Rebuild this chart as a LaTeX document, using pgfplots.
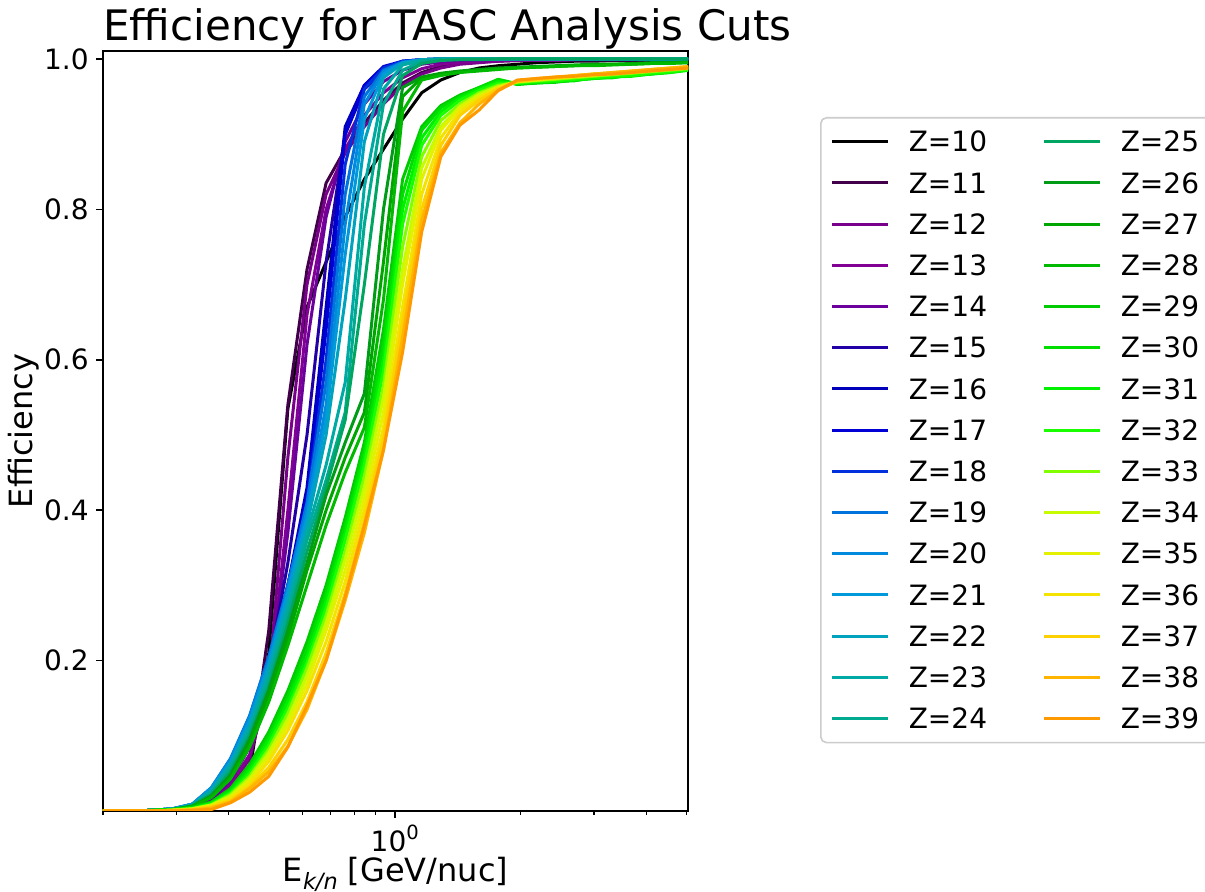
\documentclass[border=0pt]{standalone}
\usepackage{fontspec}
\setmainfont{DejaVu Sans}[ItalicFont={DejaVu Sans Oblique}]
\usepackage{pgfplots}
\usepackage{pgfplotstable}
\pgfplotsset{compat=1.18}

% nipy_spectral colours, one per charge
\definecolor{z10}{rgb}{0,0,0}
\definecolor{z11}{rgb}{0.2575,0,0.2943}
\definecolor{z12}{rgb}{0.4736,0,0.5402}
\definecolor{z13}{rgb}{0.5104,0,0.5770}
\definecolor{z14}{rgb}{0.4230,0,0.6138}
\definecolor{z15}{rgb}{0.1287,0,0.6506}
\definecolor{z16}{rgb}{0,0,0.7287}
\definecolor{z17}{rgb}{0,0,0.8391}
\definecolor{z18}{rgb}{0,0.1931,0.8667}
\definecolor{z19}{rgb}{0,0.4506,0.8667}
\definecolor{z20}{rgb}{0,0.5356,0.8667}
\definecolor{z21}{rgb}{0,0.6046,0.8529}
\definecolor{z22}{rgb}{0,0.6414,0.7425}
\definecolor{z23}{rgb}{0,0.6667,0.6437}
\definecolor{z24}{rgb}{0,0.6667,0.5701}
\definecolor{z25}{rgb}{0,0.6483,0.3862}
\definecolor{z26}{rgb}{0,0.6115,0.0920}
\definecolor{z27}{rgb}{0,0.6506,0}
\definecolor{z28}{rgb}{0,0.7241,0}
\definecolor{z29}{rgb}{0,0.7977,0}
\definecolor{z30}{rgb}{0,0.8713,0}
\definecolor{z31}{rgb}{0,0.9448,0}
\definecolor{z32}{rgb}{0.1011,1,0}
\definecolor{z33}{rgb}{0.5058,1,0}
\definecolor{z34}{rgb}{0.7816,0.9839,0}
\definecolor{z35}{rgb}{0.8920,0.9471,0}
\definecolor{z36}{rgb}{0.9563,0.8874,0}
\definecolor{z37}{rgb}{0.9931,0.8138,0}
\definecolor{z38}{rgb}{1,0.7103,0}
\definecolor{z39}{rgb}{1,0.6,0}

% efficiency per energy bin, one row per charge
\pgfplotstableread{
name n0 n1 n2 n3 n4 n5 n6 n7 n8 n9 n10 n11 n12 n13 n14 n15 n16 n17 n18 n19 n20 n21 n22 n23 n24 n25 n26 n27 n28 n29 n30 n31
x 0.1931 0.2147 0.2384 0.2651 0.2945 0.3272 0.3637 0.4042 0.4491 0.4990 0.5545 0.6162 0.6847 0.7608 0.8455 0.9395 1.0440 1.1601 1.2891 1.4325 1.5918 1.7689 1.9656 2.1842 2.4271 2.6970 2.9969 3.3302 3.7005 4.1121 4.5694 5.0775
z10 0 0 0 0 0.001 0.002 0.005 0.015 0.053 0.21 0.535 0.67 0.73 0.79 0.84 0.88 0.92 0.955 0.972 0.982 0.988 0.991 0.993 0.995 0.996 0.997 0.997 0.998 0.998 0.998 0.999 0.999
z11 0 0 0 0 0.001 0.003 0.007 0.018 0.06 0.24 0.54 0.72 0.835 0.88 0.915 0.945 0.968 0.982 0.99 0.994 0.996 0.997 0.998 0.998 0.998 0.999 0.999 0.999 0.999 0.999 0.999 0.999
z12 0 0 0 0 0.002 0.004 0.01 0.03 0.07 0.17 0.47 0.70 0.82 0.875 0.91 0.94 0.965 0.98 0.988 0.993 0.995 0.997 0.998 0.998 0.998 0.999 0.999 0.999 0.999 0.999 0.999 0.999
z13 0 0 0 0.001 0.002 0.005 0.012 0.035 0.075 0.16 0.40 0.66 0.80 0.88 0.925 0.955 0.975 0.987 0.993 0.996 0.997 0.998 0.998 0.999 0.999 0.999 0.999 0.999 0.999 0.999 0.999 0.999
z14 0 0 0 0.001 0.003 0.006 0.014 0.04 0.085 0.17 0.37 0.62 0.79 0.89 0.94 0.97 0.985 0.993 0.996 0.998 0.998 0.999 0.999 0.999 0.999 0.999 0.999 0.999 0.999 0.999 0.999 0.999
z15 0 0 0 0.001 0.002 0.006 0.02 0.05 0.10 0.19 0.33 0.50 0.73 0.90 0.96 0.982 0.993 0.997 0.999 0.999 1 1 1 1 1 1 1 1 1 1 1 1
z16 0 0 0 0.001 0.002 0.007 0.024 0.058 0.11 0.20 0.30 0.43 0.67 0.91 0.965 0.988 0.997 0.999 1 1 1 1 1 1 1 1 1 1 1 1 1 1
z17 0 0 0 0.001 0.003 0.008 0.026 0.062 0.115 0.20 0.30 0.42 0.64 0.90 0.965 0.99 0.997 0.999 1 1 1 1 1 1 1 1 1 1 1 1 1 1
z18 0 0 0 0.001 0.003 0.009 0.03 0.068 0.125 0.205 0.30 0.41 0.60 0.86 0.96 0.988 0.997 0.999 1 1 1 1 1 1 1 1 1 1 1 1 1 1
z19 0 0 0 0.001 0.003 0.009 0.031 0.07 0.127 0.205 0.30 0.41 0.57 0.82 0.95 0.985 0.996 0.999 1 1 1 1 1 1 1 1 1 1 1 1 1 1
z20 0 0 0 0.001 0.003 0.009 0.031 0.069 0.125 0.20 0.295 0.40 0.54 0.78 0.94 0.983 0.995 0.999 1 1 1 1 1 1 1 1 1 1 1 1 1 1
z21 0 0 0 0.001 0.003 0.009 0.03 0.066 0.12 0.195 0.29 0.39 0.52 0.74 0.92 0.98 0.995 0.999 1 1 1 1 1 1 1 1 1 1 1 1 1 1
z22 0 0 0 0.001 0.003 0.008 0.028 0.063 0.115 0.19 0.28 0.38 0.50 0.68 0.89 0.975 0.994 0.999 1 1 1 1 1 1 1 1 1 1 1 1 1 1
z23 0 0 0 0.001 0.003 0.008 0.026 0.06 0.11 0.18 0.27 0.37 0.46 0.57 0.83 0.96 0.992 0.998 1 1 1 1 1 1 1 1 1 1 1 1 1 1
z24 0 0 0 0.001 0.002 0.007 0.024 0.056 0.105 0.175 0.26 0.36 0.44 0.53 0.78 0.94 0.985 0.997 0.999 1 1 1 1 1 1 1 1 1 1 1 1 1
z25 0 0 0 0.001 0.002 0.007 0.022 0.052 0.10 0.165 0.25 0.345 0.43 0.52 0.70 0.90 0.978 0.994 0.998 0.999 0.999 1 1 1 1 1 1 1 1 1 1 1
z26 0 0 0 0.001 0.002 0.006 0.02 0.048 0.095 0.16 0.24 0.33 0.42 0.49 0.555 0.80 0.962 0.976 0.981 0.984 0.986 0.988 0.989 0.99 0.991 0.992 0.993 0.993 0.994 0.995 0.995 0.996
z27 0 0 0 0 0.002 0.006 0.019 0.045 0.09 0.155 0.23 0.32 0.40 0.47 0.53 0.73 0.95 0.975 0.98 0.983 0.985 0.987 0.988 0.989 0.99 0.991 0.992 0.993 0.993 0.994 0.995 0.995
z28 0 0 0 0 0.002 0.006 0.018 0.043 0.085 0.145 0.22 0.30 0.38 0.45 0.51 0.68 0.93 0.972 0.978 0.982 0.984 0.986 0.988 0.989 0.99 0.991 0.991 0.992 0.993 0.994 0.994 0.995
z29 0 0 0 0.001 0.002 0.005 0.012 0.03 0.062 0.105 0.16 0.225 0.30 0.39 0.49 0.64 0.84 0.91 0.938 0.952 0.962 0.972 0.966 0.968 0.969 0.972 0.974 0.976 0.978 0.98 0.983 0.986
z30 0 0 0 0.001 0.002 0.004 0.011 0.028 0.058 0.10 0.152 0.215 0.29 0.38 0.48 0.62 0.82 0.905 0.935 0.95 0.962 0.973 0.967 0.968 0.97 0.971 0.975 0.975 0.979 0.98 0.982 0.986
z31 0 0 0 0.001 0.002 0.004 0.01 0.026 0.054 0.094 0.145 0.205 0.28 0.37 0.47 0.60 0.80 0.895 0.93 0.948 0.96 0.97 0.967 0.969 0.97 0.972 0.974 0.976 0.977 0.98 0.982 0.985
z32 0 0 0 0 0.001 0.003 0.009 0.024 0.05 0.088 0.137 0.197 0.27 0.36 0.46 0.585 0.78 0.885 0.925 0.945 0.958 0.968 0.968 0.97 0.971 0.973 0.975 0.977 0.978 0.981 0.983 0.986
z33 0 0 0 0 0.001 0.003 0.008 0.022 0.046 0.082 0.13 0.19 0.26 0.345 0.445 0.565 0.75 0.87 0.918 0.94 0.955 0.965 0.969 0.971 0.973 0.975 0.977 0.979 0.981 0.983 0.985 0.987
z34 0 0 0 0 0.001 0.003 0.008 0.02 0.043 0.077 0.122 0.18 0.25 0.335 0.43 0.55 0.72 0.855 0.91 0.937 0.953 0.963 0.97 0.972 0.974 0.976 0.978 0.98 0.982 0.984 0.986 0.988
z35 0 0 0 0 0.001 0.002 0.007 0.018 0.04 0.072 0.115 0.17 0.24 0.32 0.415 0.53 0.70 0.84 0.905 0.935 0.95 0.962 0.97 0.972 0.975 0.977 0.979 0.981 0.983 0.985 0.987 0.989
z36 0 0 0 0 0.001 0.002 0.006 0.016 0.036 0.066 0.107 0.16 0.225 0.305 0.40 0.51 0.67 0.82 0.895 0.93 0.948 0.962 0.97 0.973 0.975 0.977 0.98 0.981 0.983 0.985 0.987 0.989
z37 0 0 0 0 0.001 0.002 0.005 0.014 0.032 0.058 0.095 0.145 0.21 0.29 0.385 0.495 0.65 0.80 0.885 0.925 0.945 0.96 0.97 0.973 0.975 0.978 0.98 0.982 0.984 0.986 0.988 0.99
z38 0 0 0 0 0 0.001 0.004 0.012 0.03 0.052 0.086 0.135 0.20 0.28 0.37 0.48 0.63 0.785 0.875 0.915 0.94 0.958 0.971 0.974 0.976 0.978 0.98 0.982 0.984 0.986 0.988 0.99
z39 0 0 0 0 0 0.001 0.002 0.011 0.025 0.046 0.085 0.14 0.20 0.285 0.38 0.48 0.61 0.77 0.87 0.912 0.932 0.958 0.972 0.974 0.976 0.977 0.979 0.98 0.982 0.984 0.986 0.988
}\rawdata
\pgfplotstabletranspose[colnames from=name]\effdata{\rawdata}

\begin{document}
\begin{tikzpicture}
\begin{axis}[
  scale only axis, width=292.5pt, height=380pt,
  xmode=log, xmin=0.2, xmax=5.04, ymin=0, ymax=1.0106,
  xtick={1},
  xticklabels={10\raisebox{0.42em}{\fontsize{9.8}{10}\selectfont 0}},
  minor xtick={0.2,0.3,0.4,0.5,0.6,0.7,0.8,0.9,2,3,4,5},
  ytick={0.2,0.4,0.6,0.8,1.0},
  yticklabels={0.2,0.4,0.6,0.8,1.0},
  /pgf/number format/assume math mode=true,
  tick pos=left, tick align=outside,
  major tick length=3.5pt, minor tick length=2pt,
  tick style={black},
  major tick style={line width=0.8pt},
  minor tick style={line width=0.6pt},
  axis line style={line width=0.8pt},
  tick label style={font=\fontsize{14}{16.8}\selectfont, inner sep=0pt},
  yticklabel style={anchor=east, xshift=-3.5pt},
  xticklabel style={anchor=north, yshift=-3.5pt},
  title={Efficiency for TASC Analysis Cuts},
  title style={at={(0,1)}, anchor=base west, inner sep=0pt, yshift=-0.8pt,
    font=\fontsize{21}{25}\selectfont},
  xlabel={E\raisebox{-0.22em}{\fontsize{11.2}{12}\selectfont\itshape k/n}\ [GeV/nuc]},
  xlabel style={at={(0.5,0)}, anchor=base, inner sep=0pt, yshift=-35.5pt,
    font=\fontsize{16}{19}\selectfont},
  ylabel={Efficiency},
  ylabel style={at={(-0.1205,0.5)}, anchor=base, inner sep=0pt,
    font=\fontsize{16}{19}\selectfont},
  every axis plot/.append style={line width=1.5pt, line join=round},
  legend columns=15, transpose legend,
  legend image code/.code={\draw[#1] (0pt,0pt) -- (28pt,0pt); \path (37.5pt,0pt);},
  legend style={at={(1.22564,0.913158)}, anchor=north west, fill=white,
    draw=black!20, line width=0.8pt, rounded corners=2.8pt,
    inner xsep=5pt, inner ysep=4.9pt, row sep=6.4pt, column sep=0pt,
    font=\fontsize{14}{16.8}\selectfont,
    nodes={inner sep=0pt, text width=67pt, text height=12.2pt,
      text depth=2pt, align=left, anchor=west}},
]
\pgfplotsinvokeforeach{10,...,39}{
  \addplot[z#1] table[x=x, y=z#1]{\effdata};
  \addlegendentry{Z=#1}
}
\coordinate (bl) at (rel axis cs:0,0);
\coordinate (tr) at (rel axis cs:1,1);
\end{axis}
\pgfresetboundingbox
\path[use as bounding box] ([xshift=-51.5pt,yshift=-40.5pt]bl) rectangle ([xshift=258.5pt,yshift=25.5pt]tr);
\end{tikzpicture}
\end{document}
